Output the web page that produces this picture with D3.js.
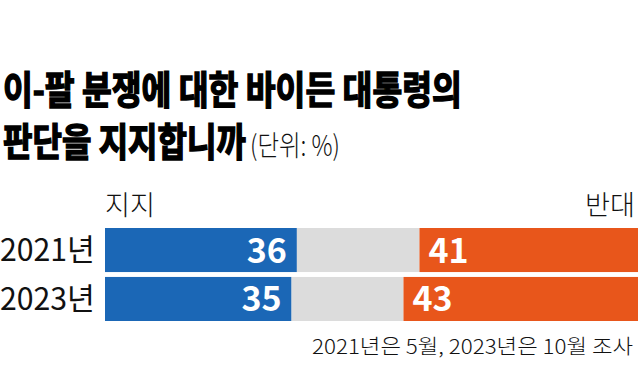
<!DOCTYPE html>
<html>
<head>
<meta charset="utf-8">
<script src="https://cdn.jsdelivr.net/npm/d3@7"></script>
<style>
  body { margin: 0; background: #fff; }
  svg { display: block; font-family: "Noto Sans CJK KR", "Noto Sans", sans-serif; }
</style>
</head>
<body>
<div id="container"></div>
<script>
// Data
const years = ['2021년', '2023년'];
const support = [36, 35];     // 지지
const undecided = [23, 21];   // grey middle part (no label)
const oppose = [41, 43];      // 반대

const W = 640, H = 386;
const svg = d3.select('#container').append('svg')
  .attr('width', W).attr('height', H);

svg.append('rect').attr('width', W).attr('height', H).attr('fill', '#fff');

// squeeze a text horizontally so it spans `w` pixels (the reference uses a condensed face)
function fit(sel, x0, y0, w, anchor) {
  sel.each(function() {
    const t = d3.select(this);
    const natural = this.getComputedTextLength();
    const sx = w / natural;
    t.attr('x', 0).attr('y', 0).attr('text-anchor', anchor || 'start')
      .attr('transform', `translate(${x0}, ${y0}) scale(${sx}, 1)`);
  });
}

// Title, two lines
svg.append('text')
  .attr('font-size', 38.5).attr('font-weight', 700)
  .attr('fill', '#000').attr('stroke', '#000').attr('stroke-width', 1.5)
  .text('이-팔 분쟁에 대한 바이든 대통령의')
  .call(fit, 3, 104, 459);

svg.append('text')
  .attr('font-size', 38.5).attr('font-weight', 700)
  .attr('fill', '#000').attr('stroke', '#000').attr('stroke-width', 1.5)
  .text('판단을 지지합니까')
  .call(fit, 3, 156, 243);

svg.append('text')
  .attr('font-size', 28).attr('font-weight', 300)
  .attr('fill', '#111')
  .text('(단위: %)')
  .call(fit, 250, 156, 90);

// Scales
const x = d3.scaleLinear().domain([0, 100]).range([105, 638]);
const y = d3.scaleBand().domain(years).range([228, 321]).paddingInner(0.1);

const rows = years.map((yr, i) => ({
  year: yr, s: support[i], n: undecided[i], o: oppose[i]
}));

// Series labels
svg.append('text')
  .attr('font-size', 27).attr('font-weight', 300)
  .attr('fill', '#111')
  .text('지지')
  .call(fit, x(0), 215, 50);

svg.append('text')
  .attr('font-size', 27).attr('font-weight', 300)
  .attr('fill', '#111')
  .text('반대')
  .call(fit, 635, 215, 50, 'end');

const g = svg.selectAll('g.row').data(rows).enter().append('g').attr('class', 'row');

// blue: support
g.append('rect')
  .attr('x', x(0))
  .attr('y', d => y(d.year))
  .attr('width', d => x(d.s) - x(0))
  .attr('height', y.bandwidth())
  .attr('fill', '#1b67b6');

// grey: undecided
g.append('rect')
  .attr('x', d => x(d.s))
  .attr('y', d => y(d.year))
  .attr('width', d => x(d.s + d.n) - x(d.s))
  .attr('height', y.bandwidth())
  .attr('fill', '#dcdcdc');

// orange: oppose (fills to the right end)
g.append('rect')
  .attr('x', d => x(d.s + d.n))
  .attr('y', d => y(d.year))
  .attr('width', d => x(100) - x(d.s + d.n))
  .attr('height', y.bandwidth())
  .attr('fill', '#e8561b');

// year labels
g.append('text')
  .attr('font-size', 31).attr('font-weight', 400)
  .attr('fill', '#111')
  .text(d => d.year)
  .each(function(d) {
    d3.select(this).call(fit, 0, y(d.year) + y.bandwidth() / 2 + 11, 95);
  });

// values
g.append('text')
  .attr('x', d => x(d.s) - 10)
  .attr('y', d => y(d.year) + y.bandwidth() / 2 + 12.5)
  .attr('text-anchor', 'end')
  .attr('font-size', 34).attr('font-weight', 700)
  .attr('fill', '#fff')
  .text(d => d.s);

g.append('text')
  .attr('x', d => x(d.s + d.n) + 9)
  .attr('y', d => y(d.year) + y.bandwidth() / 2 + 12.5)
  .attr('font-size', 34).attr('font-weight', 700)
  .attr('fill', '#fff')
  .text(d => d.o);

// footnote
svg.append('text')
  .attr('font-size', 20).attr('font-weight', 300)
  .attr('fill', '#111')
  .text('2021년은 5월, 2023년은 10월 조사')
  .call(fit, 633, 354, 321, 'end');
</script>
</body>
</html>
